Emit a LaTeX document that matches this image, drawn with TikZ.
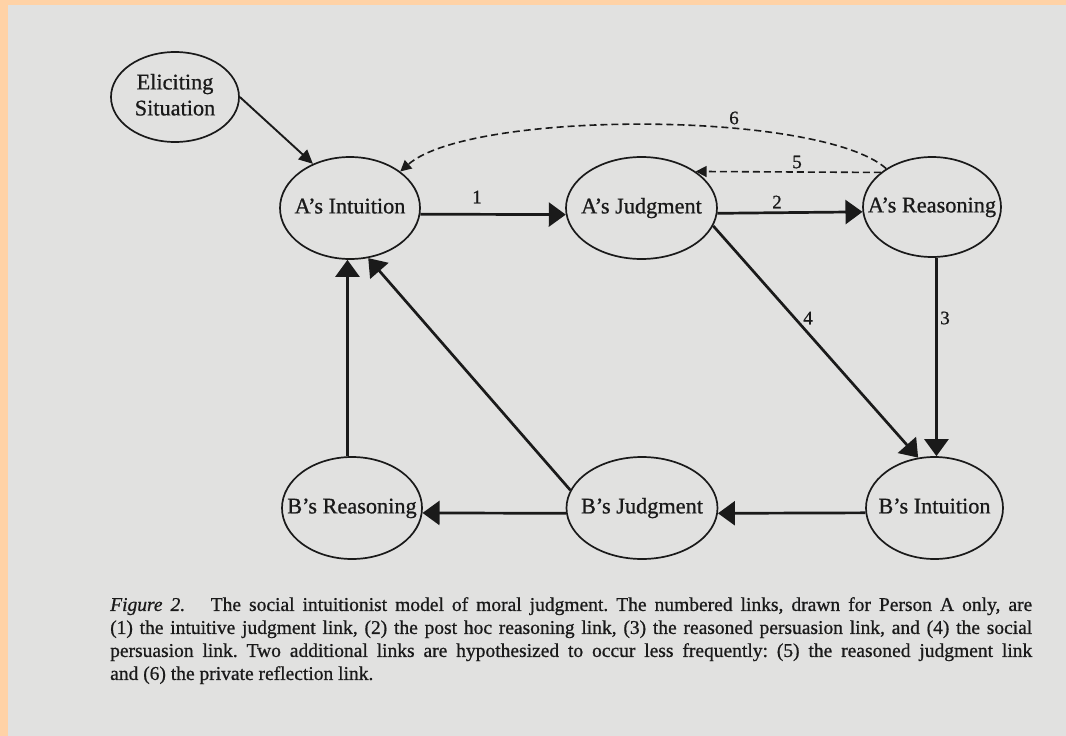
\documentclass[tikz,border=0pt]{standalone}
\usepackage{fontspec}
\setmainfont{Liberation Serif}[FakeBold=0.8]
\usetikzlibrary{shapes.geometric,arrows.meta}
\definecolor{paper}{HTML}{E1E1E0}
\definecolor{peach}{HTML}{FFD2A6}
\definecolor{ink}{HTML}{1A1A1A}
% state text takes no width, so the ellipse keeps its set size
\newcommand{\statetext}[1]{\raisebox{-3pt}{\makebox[0pt]{\begin{tabular}{@{}c@{}}#1\end{tabular}}}}
\begin{document}
\frenchspacing
\begin{tikzpicture}[x=1pt,y=-1pt,
  state/.style={ellipse, draw=ink, line width=1.7pt, inner sep=0pt,
    minimum height=102pt, text=ink,
    font=\fontsize{22.3}{27}\selectfont},
  link/.style={draw=ink, line width=2.7pt,
    -{Triangle[length=17pt,width=24pt]}},
  thinlink/.style={draw=ink, line width=1.9pt,
    -{Triangle[length=14pt,width=13pt]}},
  dlink/.style={draw=ink, line width=1.6pt, dash pattern=on 7pt off 4pt,
    -{Triangle[length=11pt,width=11pt]}},
  num/.style={text=ink, inner sep=1pt, font=\fontsize{19}{21}\selectfont}]
  % page and border
  \fill[peach] (0,0) rectangle (1066,736);
  \fill[paper] (8,5) rectangle (1066,736);
  \useasboundingbox (0,0) rectangle (1066,736);

  % states
  \node[state, minimum width=128pt, minimum height=90pt] (es) at (175,97) {\statetext{Eliciting\\[-1pt]Situation}};
  \node[state, minimum width=140pt] (ai) at (350,208) {\statetext{A’s Intuition}};
  \node[state, minimum width=151pt] (aj) at (641.5,208) {\statetext{A’s Judgment}};
  \node[state, minimum width=138pt, minimum height=100pt] (ar) at (932,207) {\statetext{A’s Reasoning}};
  \node[state, minimum width=140pt] (br) at (352,508) {\statetext{B’s Reasoning}};
  \node[state, minimum width=151pt] (bj) at (642,508) {\statetext{B’s Judgment}};
  \node[state, minimum width=137pt] (bi) at (934.5,508) {\statetext{B’s Intuition}};

  % links
  \draw[thinlink] (es.east) -- (ai.130);
  \draw[link] (ai.-5) -- (aj.185);
  \draw[link] (aj.-4) -- (ar.184);
  \draw[dlink] (ar.146) -- (aj.34);
  \draw[dlink] (ar.140) .. controls (820,110) and (470,110) .. (ai.36);
  \draw[link] (ar.-85) -- (ar.-85 |- bi.north);
  \draw[link] (aj.-14) -- (bi.108);
  \draw[link] (bi.184) -- (bj.-4);
  \draw[link] (bj.184) -- (br.-4);
  \draw[link] (br.95) -- (br.95 |- ai.south);
  \draw[link] (bj.166) -- (ai.-70);

  % link numbers
  \node[num] (n1) at (477,197) {1};
  \node[num] (n2) at (777,202) {2};
  \node[num] (n5) at (797,162) {5};
  \node[num] (n6) at (734,118) {6};
  \node[num] (n4) at (808,318) {4};
  \node[num] (n3) at (945,318) {3};

  % caption
  \node[anchor=north west, inner sep=0pt, text width=922pt, align=justify,
        text=ink, font=\fontsize{19.5}{23}\selectfont] (cap) at (110,597)
  {\textit{Figure 2.}\hspace{0.9em} The social intuitionist model of moral judgment. The numbered links, drawn for Person A only, are\linebreak
   (1) the intuitive judgment link, (2) the post hoc reasoning link, (3) the reasoned persuasion link, and (4) the social\linebreak
   persuasion link. Two additional links are hypothesized to occur less frequently: (5) the reasoned judgment link\linebreak
   and (6) the private reflection link.};
\end{tikzpicture}
\end{document}
